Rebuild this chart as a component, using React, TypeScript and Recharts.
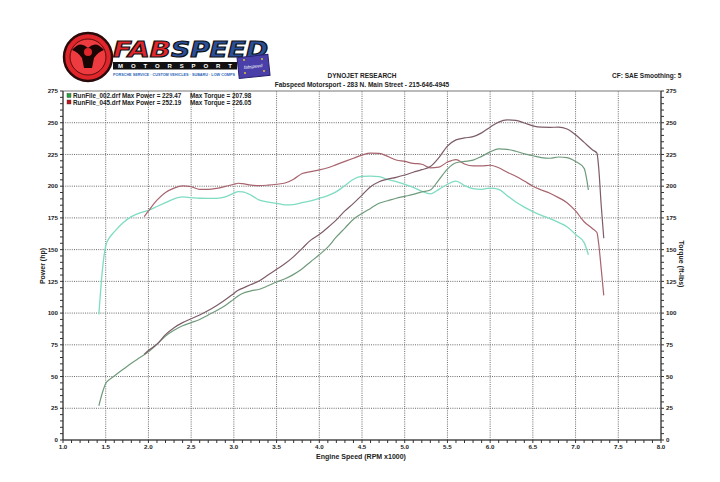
import React from 'react';
import { LineChart, Line, XAxis, YAxis, ReferenceLine, ReferenceArea } from 'recharts';

// ---- Run 002 ----
const rpm002 = [1.42, 1.46, 1.5, 1.55, 1.6, 1.7, 1.8, 1.9, 2.0, 2.1, 2.2, 2.3, 2.4, 2.5, 2.6, 2.7, 2.8, 2.9, 3.0, 3.05, 3.1, 3.2, 3.3, 3.4, 3.5, 3.6, 3.7, 3.8, 3.9, 4.0, 4.1, 4.2, 4.3, 4.4, 4.5, 4.6, 4.7, 4.8, 4.9, 5.0, 5.1, 5.2, 5.3, 5.4, 5.5, 5.6, 5.7, 5.8, 5.9, 6.0, 6.1, 6.2, 6.3, 6.4, 6.5, 6.6, 6.7, 6.8, 6.9, 7.0, 7.1, 7.15];
const torque002 = [99, 133, 153, 160, 164, 171, 176, 179, 181, 184, 187, 190, 191.5, 191, 190.5, 190.4, 190.4, 191.5, 194.5, 195.7, 195.5, 193, 189, 187.5, 186.5, 185.3, 185.5, 187, 188.5, 190.4, 192.5, 195.7, 200.5, 205.5, 207.8, 208, 207.5, 205.4, 203.5, 201.5, 199, 196, 194, 197.5, 201.5, 204, 200.5, 198, 197.5, 198.5, 197.5, 192.5, 187.5, 183.5, 180, 177, 174.5, 171.5, 168, 162, 155.5, 146];
const power002 = [27, 37, 44.5, 48, 50.5, 55.5, 60.5, 65, 69.5, 75.5, 82, 86.5, 90, 92.5, 95, 98.5, 102, 106, 111, 113.5, 115.5, 117.5, 118.8, 121.5, 124.5, 127, 130.5, 135, 140.5, 146, 152, 160, 167, 174, 178.5, 182.5, 186.5, 188.5, 190.5, 192, 193.5, 195.5, 197, 205, 213.5, 218.5, 219.5, 220.5, 223.5, 227, 229.4, 229, 227.5, 225.5, 224, 222.5, 222, 223, 222.5, 219.5, 214, 197];

// ---- Run 045 ----
const rpm045 = [1.95, 2.0, 2.1, 2.2, 2.3, 2.4, 2.5, 2.6, 2.7, 2.8, 2.9, 3.0, 3.05, 3.1, 3.2, 3.3, 3.4, 3.5, 3.6, 3.7, 3.8, 3.9, 4.0, 4.1, 4.2, 4.3, 4.4, 4.5, 4.6, 4.7, 4.8, 4.9, 5.0, 5.1, 5.2, 5.3, 5.4, 5.5, 5.6, 5.7, 5.8, 5.9, 6.0, 6.1, 6.2, 6.3, 6.4, 6.5, 6.6, 6.7, 6.8, 6.9, 7.0, 7.1, 7.2, 7.25, 7.27, 7.3, 7.33];
const torque045 = [176, 180.5, 189, 195, 198.5, 200.2, 199.6, 197.5, 197.5, 198.3, 199.8, 201.5, 202.3, 202, 200.8, 200.4, 200.8, 201.5, 202.5, 205.5, 210, 211.5, 212.8, 214.5, 217, 219.5, 222, 224.5, 226, 225.8, 223.5, 220.6, 219.5, 218, 217.3, 214.5, 215, 219, 221, 217.5, 216, 216, 216.5, 214.5, 211, 207.8, 204, 200, 197, 194.4, 191, 187, 180.5, 172, 166.5, 163.5, 155, 135, 114];
const power045 = [67.5, 70.5, 75.5, 83, 88.5, 92.5, 95.5, 98.5, 102, 106, 110.5, 115.5, 118, 119.5, 122.5, 125.5, 130, 134.5, 139, 144.5, 151, 157.5, 162, 167.5, 173.5, 180.5, 186.5, 193, 199.5, 203.5, 205.5, 207, 208.8, 211, 213, 215.5, 222.5, 231.5, 236.5, 238, 239, 242, 246.5, 250.5, 252.2, 251.8, 249.8, 247.5, 246.5, 246.4, 246.5, 245, 240.5, 234.5, 228.5, 226, 215, 185, 159];

// ---- Axes / labels ----
const xMajorTicks = [1.0, 1.5, 2.0, 2.5, 3.0, 3.5, 4.0, 4.5, 5.0, 5.5, 6.0, 6.5, 7.0, 7.5, 8.0];
const xMinorTicks = Array.from({ length: 71 }, (_, i) => Math.round((1 + i * 0.1) * 10) / 10);
const yMajorTicks = [0, 25, 50, 75, 100, 125, 150, 175, 200, 225, 250, 275];
const yMinorTicks = Array.from({ length: 56 }, (_, i) => i * 5);
const legendRows = [
  { name: 'RunFile_002.drf', power: '229.47', torque: '207.98', color: '#1fa83a' },
  { name: 'RunFile_045.drf', power: '252.19', torque: '226.05', color: '#c0141c' },
];

const data002 = rpm002.map((r, i) => ({ rpm: r, power: power002[i], torque: torque002[i] }));
const data045 = rpm045.map((r, i) => ({ rpm: r, power: power045[i], torque: torque045[i] }));

const FONT = '"Liberation Sans", Arial, sans-serif';
const tickStyle = { fontFamily: FONT, fontSize: 6.2, fontWeight: 700, fill: '#222' };

export default function App() {
  return (
    <div style={{ position: 'absolute', left: 0, top: 0, width: 720, height: 482, background: '#fff' }}>
      <LineChart width={720} height={482} margin={{ top: 91, right: 0, bottom: 0, left: 0 }}>
        <XAxis
          dataKey="rpm"
          type="number"
          domain={[1, 8]}
          ticks={xMinorTicks}
          interval={0}
          allowDataOverflow
          tickFormatter={(v: number) => (Math.abs(v * 2 - Math.round(v * 2)) < 1e-6 ? v.toFixed(1) : '')}
          tick={tickStyle}
          tickSize={3}
          stroke="#333"
          height={42}
        />
        <YAxis
          yAxisId="left"
          type="number"
          domain={[0, 275]}
          ticks={yMinorTicks}
          interval={0}
          tickFormatter={(v: number) => (v % 25 === 0 ? String(v) : '')}
          tick={tickStyle}
          tickSize={3}
          stroke="#333"
          width={63}
        />
        <YAxis
          yAxisId="right"
          orientation="right"
          type="number"
          domain={[0, 275]}
          ticks={yMinorTicks}
          interval={0}
          tickFormatter={(v: number) => (v % 25 === 0 ? String(v) : '')}
          tick={tickStyle}
          tickSize={3}
          stroke="#333"
          width={59}
        />
        {xMajorTicks.slice(1, -1).map((t) => (
          <ReferenceLine key={'x' + t} x={t} yAxisId="left" stroke="#6a6a6a" strokeDasharray="1 1.2" strokeWidth={1} />
        ))}
        {yMajorTicks.slice(1, -1).map((t) => (
          <ReferenceLine key={'y' + t} y={t} yAxisId="left" stroke="#6a6a6a" strokeDasharray="1 1.2" strokeWidth={1} />
        ))}
        <ReferenceArea x1={1} x2={8} y1={0} y2={275} yAxisId="left" fill="none" stroke="#777" strokeWidth={1} />
        <Line data={data002} yAxisId="right" dataKey="torque" type="monotone" stroke="#7ddcc2" strokeWidth={1.3} dot={false} isAnimationActive={false} />
        <Line data={data045} yAxisId="right" dataKey="torque" type="monotone" stroke="#a8646e" strokeWidth={1.2} dot={false} isAnimationActive={false} />
        <Line data={data002} yAxisId="left" dataKey="power" type="monotone" stroke="#6f9b7c" strokeWidth={1.2} dot={false} isAnimationActive={false} />
        <Line data={data045} yAxisId="left" dataKey="power" type="monotone" stroke="#7d5c68" strokeWidth={1.2} dot={false} isAnimationActive={false} />
      </LineChart>

      <svg width={720} height={482} style={{ position: 'absolute', left: 0, top: 0, pointerEvents: 'none' }}>
        {/* Logo */}
        <circle cx={88} cy={57} r={24} fill="#e0262b" stroke="#2a0a0a" strokeWidth={2.5} />
        <circle cx={88} cy={57} r={18} fill="#ee3b3f" stroke="#5a0c0c" strokeWidth={1} />
        <path d="M72 50 Q80 40 88 48 Q96 40 104 50 Q98 52 94 58 L92 68 L84 68 L82 58 Q78 52 72 50 Z" fill="#1a0505" />
        <circle cx={88} cy={52} r={4} fill="#e0262b" />
        <text x={113} y={57} fontFamily="Arial Black, 'DejaVu Sans', sans-serif" fontWeight={900} fontStyle="italic" fontSize={21} fill="#e3262c" stroke="#111" strokeWidth={1.1} textLength={58} lengthAdjust="spacingAndGlyphs">FAB</text>
        <text x={171} y={57} fontFamily="Arial Black, 'DejaVu Sans', sans-serif" fontWeight={900} fontStyle="italic" fontSize={21} fill="#2a4f9a" stroke="#111" strokeWidth={1.1} textLength={97} lengthAdjust="spacingAndGlyphs">SPEED</text>
        <rect x={113} y={62} width={124} height={7.5} fill="#111" />
        <text x={118} y={68.3} fontFamily={FONT} fontWeight={700} fontSize={6} fill="#fff" textLength={114} lengthAdjust="spacing">MOTORSPORT</text>
        <text x={113} y={75.5} fontFamily={FONT} fontWeight={700} fontSize={3.4} fill="#2a63b8" textLength={122} lengthAdjust="spacingAndGlyphs">PORSCHE SERVICE · CUSTOM VEHICLES · SUBARU · LOW COMPS</text>
        <rect x={238} y={56} width={31} height={21} fill="#4a3fa8" stroke="#2a2070" strokeWidth={1} transform="rotate(-6 253 66)" />
        <text x={253} y={68} textAnchor="middle" fontFamily={FONT} fontSize={4.5} fontStyle="italic" fill="#fff" transform="rotate(-6 253 66)">fabspeed</text>
        <circle cx={244} cy={60} r={0.9} fill="#f5d020" />
        <circle cx={262} cy={59} r={0.9} fill="#f5d020" />
        <circle cx={245} cy={73} r={0.9} fill="#f5d020" />
        <circle cx={264} cy={71} r={0.9} fill="#f5d020" />

        {/* Header texts */}
        <text x={362} y={78} textAnchor="middle" fontFamily={FONT} fontWeight={700} fontSize={6.5} fill="#222">DYNOJET RESEARCH</text>
        <text x={362} y={87} textAnchor="middle" fontFamily={FONT} fontWeight={700} fontSize={6.5} fill="#222">Fabspeed Motorsport - 283 N. Main Street - 215-646-4945</text>
        <text x={612} y={78} fontFamily={FONT} fontWeight={700} fontSize={6.5} fill="#222">CF: SAE  Smoothing: 5</text>

        {/* Legend */}
        {legendRows.map((r, i) => (
          <g key={r.name}>
            <rect x={67} y={93.5 + i * 6.5} width={4} height={4} fill={r.color} stroke="#333" strokeWidth={0.4} />
            <text x={73} y={98 + i * 6.5} fontFamily={FONT} fontWeight={700} fontSize={6.3} fill="#222">{`${r.name} Max Power = ${r.power}`}</text>
            <text x={190} y={98 + i * 6.5} fontFamily={FONT} fontWeight={700} fontSize={6.3} fill="#222">{`Max Torque = ${r.torque}`}</text>
          </g>
        ))}

        {/* Axis titles */}
        <text x={361} y={459} textAnchor="middle" fontFamily={FONT} fontWeight={700} fontSize={7} fill="#222">Engine Speed (RPM x1000)</text>
        <text x={45} y={266} textAnchor="middle" fontFamily={FONT} fontWeight={700} fontSize={7} fill="#222" transform="rotate(-90 45 266)">Power (hp)</text>
        <text x={679} y={264} textAnchor="middle" fontFamily={FONT} fontWeight={700} fontSize={7} fill="#222" transform="rotate(90 679 264)">Torque (ft-lbs)</text>
      </svg>
    </div>
  );
}
